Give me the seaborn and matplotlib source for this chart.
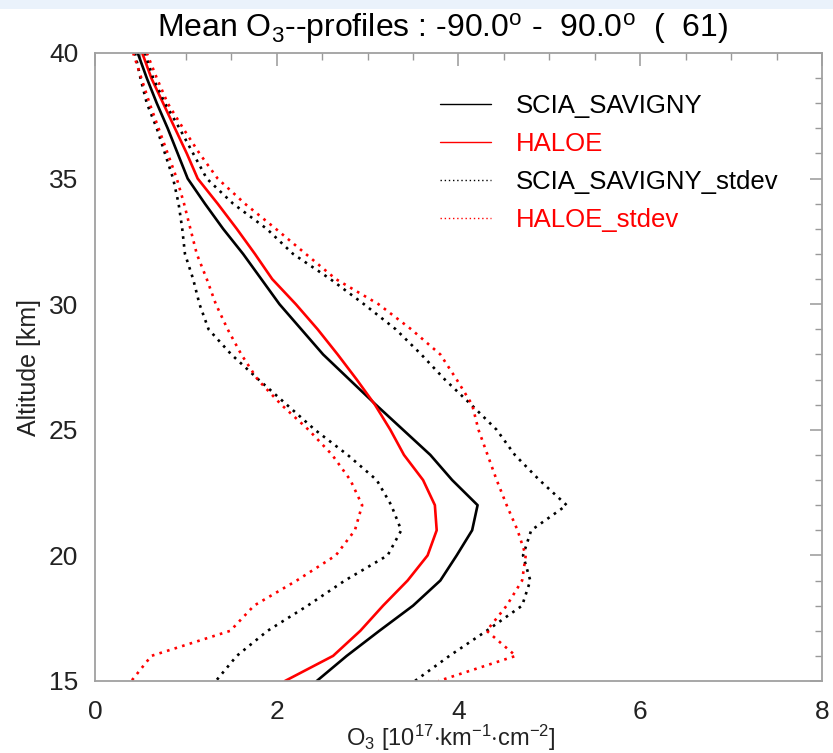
import numpy as np
import pandas as pd
import matplotlib
matplotlib.use("Agg")
import matplotlib.pyplot as plt
from matplotlib.patches import Rectangle
from matplotlib.lines import Line2D
import seaborn as sns

# ---- data ----
altitude = [40, 39, 38, 37, 36, 35, 34, 33, 32, 31, 30, 29, 28, 27, 26, 25, 24, 23, 22, 21, 20, 19, 18, 17, 16, 15]

scia_mean = [0.47, 0.57, 0.68, 0.80, 0.91, 1.02, 1.21, 1.41, 1.63, 1.83, 2.03, 2.27, 2.51, 2.80, 3.09, 3.39,
             3.69, 3.93, 4.21, 4.15, 3.98, 3.80, 3.50, 3.13, 2.77, 2.44]
haloe_mean = [0.52, 0.62, 0.75, 0.88, 1.01, 1.13, 1.35, 1.56, 1.76, 1.95, 2.21, 2.45, 2.67, 2.88, 3.08, 3.25,
              3.40, 3.61, 3.74, 3.76, 3.66, 3.44, 3.17, 2.92, 2.62, 2.09]
scia_std_low = [0.44, 0.50, 0.57, 0.68, 0.77, 0.86, 0.92, 0.96, 0.99, 1.08, 1.15, 1.25, 1.50, 1.80, 2.11, 2.42,
                2.78, 3.10, 3.26, 3.37, 3.22, 2.75, 2.34, 1.90, 1.56, 1.33]
scia_std_high = [0.55, 0.64, 0.77, 0.93, 1.08, 1.23, 1.52, 1.89, 2.18, 2.59, 2.96, 3.31, 3.59, 3.85, 4.14, 4.42,
                 4.62, 4.89, 5.19, 4.80, 4.71, 4.79, 4.70, 4.31, 3.90, 3.52]
haloe_std_low = [0.42, 0.51, 0.60, 0.70, 0.80, 0.90, 0.98, 1.05, 1.12, 1.23, 1.33, 1.46, 1.61, 1.79, 2.05, 2.35,
                 2.61, 2.81, 2.94, 2.86, 2.65, 2.22, 1.75, 1.49, 0.62, 0.40]
haloe_std_high = [0.57, 0.68, 0.80, 0.97, 1.15, 1.35, 1.65, 1.99, 2.32, 2.65, 3.12, 3.48, 3.80, 3.98, 4.15, 4.22,
                  4.32, 4.42, 4.53, 4.65, 4.74, 4.70, 4.53, 4.31, 4.63, 3.78]

legend_labels = ["SCIA_SAVIGNY", "HALOE", "SCIA_SAVIGNY_stdev", "HALOE_stdev"]
xticks = [0, 2, 4, 6, 8]
yticks = [15, 20, 25, 30, 35, 40]

# ---- style ----
sns.set_theme(style="white")
plt.rcParams['font.family'] = ['Liberation Sans', 'DejaVu Sans']
plt.rcParams['mathtext.fontset'] = 'custom'
plt.rcParams['mathtext.rm'] = 'Liberation Sans'
plt.rcParams['mathtext.it'] = 'Liberation Sans'

W, H = 833, 753
fig = plt.figure(figsize=(W / 100, H / 100), dpi=100)
fig.patches.append(Rectangle((0, 1 - 9 / H), 1, 9 / H, transform=fig.transFigure,
                             facecolor='#eaf2fb', edgecolor='none', zorder=0))

ax = fig.add_axes([95 / W, 1 - 681 / H, (822 - 95) / W, (681 - 53) / H])

dot = (0, (1, 2))
series = [
    (scia_mean, 'black', '-'),
    (haloe_mean, 'red', '-'),
    (scia_std_low, 'black', dot),
    (scia_std_high, 'black', dot),
    (haloe_std_low, 'red', dot),
    (haloe_std_high, 'red', dot),
]
for vals, col, ls in series:
    df = pd.DataFrame({'o3': vals, 'alt': altitude})
    sns.lineplot(data=df, x='o3', y='alt', sort=False, estimator=None, color=col,
                 linestyle=ls, linewidth=1.9, ax=ax)

ax.set_xlim(0, 8)
ax.set_ylim(15, 40)
ax.set_xticks(xticks)
ax.set_yticks(yticks)
ax.set_xticks(np.arange(0, 8.01, 0.5), minor=True)
ax.set_yticks(np.arange(15, 40.01, 1), minor=True)
ax.tick_params(which='both', direction='in', top=True, right=True, color='#999999',
               labelsize=19, labelcolor='#222222')
ax.tick_params(which='major', length=9, width=1.1)
ax.tick_params(axis='x', which='major', pad=14)
ax.tick_params(axis='y', which='major', pad=12)
ax.tick_params(which='minor', length=5, width=1.0)
for s in ax.spines.values():
    s.set_color('#a0a0a0')
    s.set_linewidth(1.3)

ax.set_xlabel('')
fig.text(451 / W, 1 - 738 / H, r'O$_3$ [10$^{17}$$\cdot$km$^{-1}$$\cdot$cm$^{-2}$]',
         ha='center', va='center', fontsize=17, color='#222222')
ax.set_ylabel('Altitude [km]', fontsize=18, color='#222222', labelpad=6)

fig.text(442 / W, 1 - 29 / H, r'Mean O$_3$--profiles : -90.0$^o$ -  90.0$^o$  (  61)',
         ha='center', va='center', fontsize=23, color='black')

handles = [
    Line2D([], [], color='black', lw=1.0, ls='-'),
    Line2D([], [], color='red', lw=1.0, ls='-'),
    Line2D([], [], color='black', lw=1.0, ls=(0, (1, 2))),
    Line2D([], [], color='red', lw=1.0, ls=(0, (1, 2))),
]
leg = ax.legend(handles, legend_labels, loc='upper left', bbox_to_anchor=(0.4746, 0.935),
                frameon=False, fontsize=18.5, handlelength=2.0, handletextpad=0.95,
                labelspacing=0.55, borderpad=0, borderaxespad=0)
for t, c in zip(leg.get_texts(), ['black', 'red', 'black', 'red']):
    t.set_color(c)

fig.savefig('out.png', dpi=100)
